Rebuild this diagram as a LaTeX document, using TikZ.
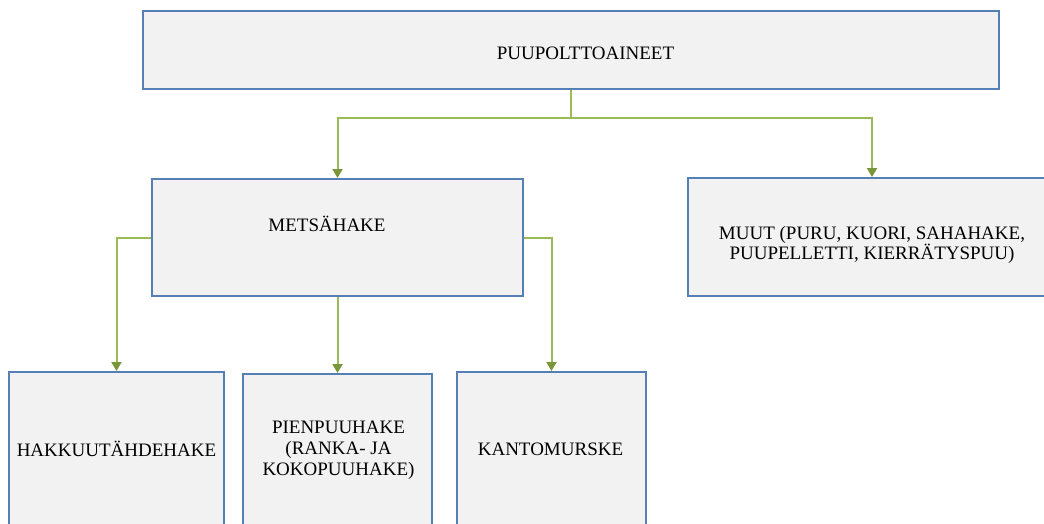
\documentclass[tikz,border=0pt]{standalone}
\usepackage{fontspec}
\setmainfont{Liberation Serif}
\usetikzlibrary{arrows.meta}
\definecolor{boxblue}{RGB}{84,128,182}
\definecolor{boxfill}{RGB}{242,242,242}
\definecolor{linkgreen}{RGB}{155,187,89}
\definecolor{tipgreen}{RGB}{122,150,58}
\tikzset{
  box/.style={draw=boxblue, fill=boxfill, line width=2pt, inner sep=0pt},
  txt/.style={font=\fontsize{19}{21}\selectfont, inner sep=0pt, align=center, text=black},
  link/.style={draw=linkgreen, line width=2pt},
  arr/.style={link, -{Triangle[width=10pt,length=9pt,fill=tipgreen,color=tipgreen]}}
}
\begin{document}
\begin{tikzpicture}[x=1pt,y=-1pt]
\clip (0,0) rectangle (1044,524);
\fill[white] (0,0) rectangle (1044,524);
% boxes
\node[box, minimum width=856pt, minimum height=78pt] (top) at (571,50) {};
\node[box, minimum width=371pt, minimum height=117pt] (met) at (337.5,237.5) {};
\node[box, minimum width=368pt, minimum height=118pt] (muut) at (872,237) {};
\node[box, minimum width=215pt, minimum height=190pt] (hak) at (116.5,467) {};
\node[box, minimum width=189pt, minimum height=190pt] (pien) at (337.5,469) {};
\node[box, minimum width=189pt, minimum height=190pt] (kanto) at (551.5,467) {};
% texts
\node[txt] (toptxt) at (585.5,53) {PUUPOLTTOAINEET};
\node[txt] (mettxt) at (327,224) {METSÄHAKE};
\node[txt, font=\fontsize{19}{18.5}\selectfont] (muuttxt) at (872,245) {MUUT (PURU, KUORI, SAHAHAKE,\\PUUPELLETTI, KIERRÄTYSPUU)};
\node[txt] (haktxt) at (116.5,449) {HAKKUUTÄHDEHAKE};
\node[txt] (pientxt) at (338.5,450) {PIENPUUHAKE\\(RANKA- JA\\KOKOPUUHAKE)};
\node[txt] (kantotxt) at (550.5,449) {KANTOMURSKE};
% connectors
\draw[link] (top.south) -- (571,118) coordinate (junc);
\draw[arr] (junc) -| (met.north);
\draw[arr] (junc) -| (muut.north);
\draw[arr] (met.west |- 0,238) -| (hak.north);
\draw[arr] (met.south) -- (pien.north);
\draw[arr] (met.east |- 0,238) -| (kanto.north);
\end{tikzpicture}
\end{document}
